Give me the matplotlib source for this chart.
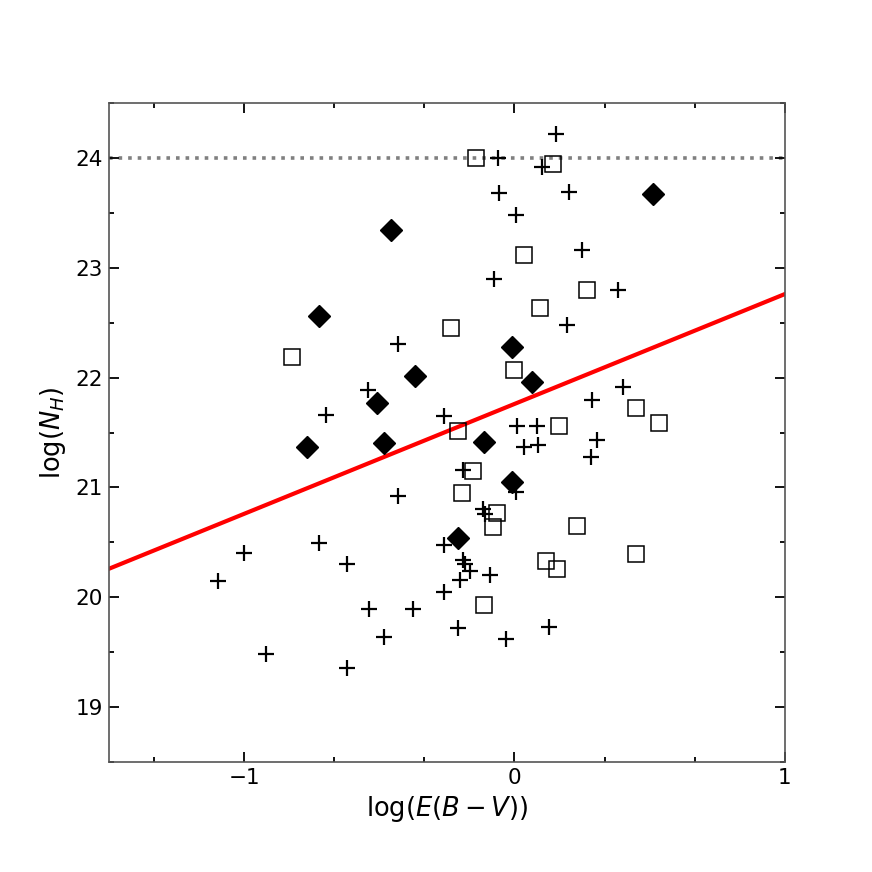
#!/usr/bin/env python3
import numpy as np
from matplotlib import pyplot as plt
from matplotlib.ticker import MultipleLocator

# filled diamonds
dia_x = [-0.456, -0.723, -0.368, -0.508, -0.767, -0.482, -0.010, 0.065,
         -0.113, -0.010, -0.209, 0.512]
dia_y = [23.34, 22.56, 22.01, 21.77, 21.37, 21.40, 22.28, 21.96,
         21.41, 21.05, 20.54, 23.67]

# open squares
sq_x = [-0.824, -0.144, 0.143, 0.037, 0.267, 0.094, -0.236, 0.000,
        0.451, 0.533, 0.164, -0.208, -0.155, -0.193, -0.066, -0.081,
        0.233, 0.451, 0.116, 0.158, -0.113]
sq_y = [22.19, 24.00, 23.94, 23.12, 22.80, 22.63, 22.45, 22.07,
        21.72, 21.59, 21.56, 21.51, 21.15, 20.95, 20.77, 20.64,
        20.65, 20.39, 20.33, 20.26, 19.93]

# plus signs
pl_x = [0.152, -0.060, 0.100, -0.057, 0.201, 0.005, 0.249, -0.076,
        0.384, 0.193, -0.432, 0.402, -0.541, 0.287, -0.699, -0.261,
        0.010, 0.082, 0.304, 0.035, 0.088, 0.282, -0.190, 0.005,
        -0.115, -0.108, -0.432, -0.261, -0.722, -1.000, -0.190, -0.183,
        -0.621, -0.165, -0.091, -1.098, -0.202, -0.261, -0.537, -0.377,
        -0.208, 0.127, -0.032, -0.483, -0.920, -0.621]
pl_y = [24.22, 24.00, 23.92, 23.68, 23.69, 23.48, 23.16, 22.90,
        22.80, 22.48, 22.31, 21.91, 21.89, 21.80, 21.66, 21.65,
        21.56, 21.56, 21.43, 21.37, 21.39, 21.28, 21.16, 20.96,
        20.80, 20.76, 20.92, 20.48, 20.49, 20.40, 20.34, 20.30,
        20.30, 20.24, 20.20, 20.15, 20.16, 20.05, 19.89, 19.89,
        19.72, 19.73, 19.62, 19.64, 19.48, 19.36]

# fit line and limit
fit_x = [-1.5, 1.0]
fit_y = [20.26, 22.76]
nh_limit = 24.0

fig = plt.figure(figsize=(8.72, 8.72), dpi=100)
ax = fig.add_axes([0.125, 0.126, 0.775, 0.756])

ax.axhline(nh_limit, color='#808080', ls=':', lw=2.6, zorder=1)
ax.plot(fit_x, fit_y, color='red', lw=3, zorder=2)
ax.plot(pl_x, pl_y, '+', color='black', ms=12, mew=1.6, zorder=3)
ax.plot(sq_x, sq_y, 's', mfc='none', mec='black', ms=11, mew=1.1, zorder=3)
ax.plot(dia_x, dia_y, 'D', color='black', ms=11.5, zorder=4)

ax.set_xlim(-1.5, 1)
ax.set_ylim(18.5, 24.5)
ax.xaxis.set_major_locator(MultipleLocator(1))
ax.xaxis.set_minor_locator(MultipleLocator(1 / 3))
ax.yaxis.set_major_locator(MultipleLocator(1))
ax.yaxis.set_minor_locator(MultipleLocator(0.5))
ax.tick_params(which='both', direction='in', top=True, right=True,
               color='black', width=1.3, labelsize=15.5)
ax.tick_params(which='major', length=7, pad=4.5)
ax.tick_params(which='minor', length=3.5)
for sp in ax.spines.values():
    sp.set_color('#555555')
    sp.set_linewidth(1.2)

ax.set_xlabel(r'log($E(B-V)$)', fontsize=18.5, labelpad=4)
ax.set_ylabel(r'log($N_H$)', fontsize=18.5, labelpad=5)

plt.savefig('out.png', dpi=100)
